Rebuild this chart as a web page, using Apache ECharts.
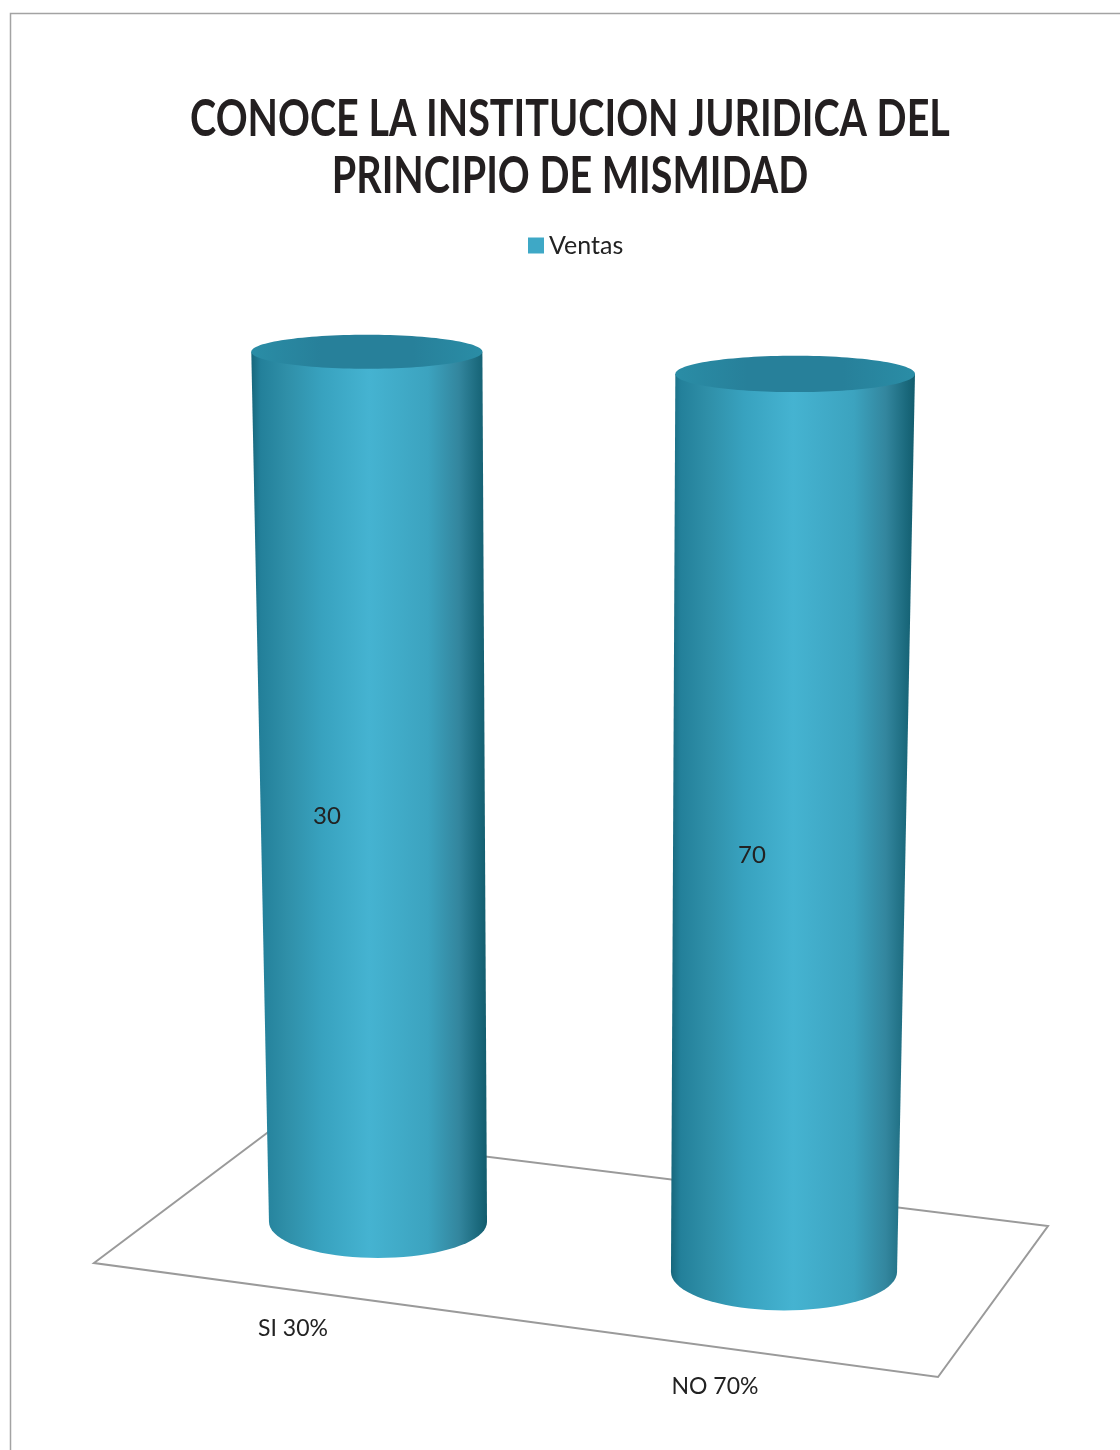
<!DOCTYPE html>
<html>
<head>
<meta charset="utf-8">
<script src="https://cdn.jsdelivr.net/npm/echarts@6/dist/echarts.min.js"></script>
<style>
html, body { margin: 0; padding: 0; background: #fff; }
#chart { width: 1120px; height: 1450px; }
</style>
</head>
<body>
<div id="chart"></div>
<script>
var titleText = 'CONOCE LA INSTITUCION JURIDICA DEL\nPRINCIPIO DE MISMIDAD';
var seriesName = 'Ventas';
var categories = ['SI 30%', 'NO 70%'];
var ventas = [30, 70];

// the picture is a 3D chart: both cylinders look almost the same height,
// so the hidden value axis starts far below zero to keep that look
var axisMin = -1220;
var axisMax = 80;
var floorSlope = 0.123; // cylinders slide down along the floor

var bodyColors = [
    { offset: 0, color: '#17677c' },
    { offset: 0.04, color: '#23809a' },
    { offset: 0.15, color: '#2f8fa8' },
    { offset: 0.3, color: '#38a2bf' },
    { offset: 0.5, color: '#45b3d1' },
    { offset: 0.75, color: '#3ca3bf' },
    { offset: 0.88, color: '#33869e' },
    { offset: 0.97, color: '#19677a' },
    { offset: 1, color: '#125c6d' }
];
var capColors = [
    { offset: 0, color: '#2a8da6' },
    { offset: 0.3, color: '#27809a' },
    { offset: 0.7, color: '#27809a' },
    { offset: 1, color: '#2a8da6' }
];

function gradient(stops) {
    return { type: 'linear', x: 0, y: 0, x2: 1, y2: 0, colorStops: stops };
}

// ellipse gets flatter towards the top of the picture
function tilt(y) {
    return 0.147 + (y - 352) * 0.00021;
}

function renderCylinder(params, api) {
    var idx = api.value(0);
    var val = api.value(1);
    var band = api.size([1, 0])[0];
    var first = api.coord([0, axisMin]);
    var last = api.coord([categories.length - 1, axisMin]);
    var middle = (first[0] + last[0]) / 2;
    var base = api.coord([idx, axisMin]);
    var head = api.coord([idx, val]);
    var shift = floorSlope * (base[0] - first[0]);

    var baseX = base[0];
    var baseY = base[1] + shift;
    var topX = middle + (baseX - middle) * 1.055;
    var topY = head[1] + shift;
    var baseHalf = band * 0.2685 * (1 + shift * 0.00074);
    var topHalf = baseHalf * 1.06;
    var baseRy = baseHalf * tilt(baseY);
    var topRy = topHalf * tilt(topY);

    var pts = [[topX - topHalf, topY], [topX + topHalf, topY]];
    for (var a = 0; a <= 40; a++) {
        var t = Math.PI * a / 40;
        pts.push([baseX + baseHalf * Math.cos(t), baseY + baseRy * Math.sin(t)]);
    }

    return {
        type: 'group',
        children: [
            {
                type: 'polygon',
                shape: { points: pts },
                style: { fill: gradient(bodyColors) }
            },
            {
                type: 'ellipse',
                shape: { cx: topX, cy: topY, rx: topHalf, ry: topRy },
                style: { fill: gradient(capColors) }
            },
            {
                type: 'text',
                style: {
                    text: String(val),
                    x: baseX - 51 + shift * 0.38,
                    y: (topY + baseY) / 2 + 29 + shift * 0.06,
                    fill: '#222',
                    font: '24px Lato',
                    align: 'center',
                    verticalAlign: 'middle'
                }
            },
            {
                type: 'text',
                style: {
                    text: categories[idx],
                    x: baseX - 85 + shift * 0.32,
                    y: baseY + 107 + shift * 0.16,
                    fill: '#222',
                    font: '23px Lato',
                    align: 'center',
                    verticalAlign: 'middle'
                }
            }
        ]
    };
}

var chartData = ventas.map(function (v, i) { return [i, v]; });

var myChart = echarts.init(document.getElementById('chart'));
var option = {
    backgroundColor: '#fff',
    animation: false,
    color: ['#3ea8c6'],
    legend: {
        data: [seriesName],
        left: 528,
        top: 233,
        padding: 0,
        icon: 'rect',
        itemWidth: 16,
        itemHeight: 16,
        itemGap: 5,
        textStyle: { color: '#222', fontFamily: 'Lato', fontSize: 25, padding: [0, 0, 0, 0] }
    },
    grid: { left: 175, width: 812, top: 317, height: 905 },
    xAxis: { type: 'category', data: categories, show: false },
    yAxis: { type: 'value', min: axisMin, max: axisMax, show: false },
    series: [{
        name: seriesName,
        type: 'custom',
        renderItem: renderCylinder,
        encode: { x: 0, y: 1 },
        data: chartData,
        itemStyle: { color: '#3ea8c6' },
        z: 3
    }],
    graphic: [
        {
            // title squeezed sideways, no condensed font is installed
            type: 'text',
            x: 570,
            y: 148,
            scaleX: 0.76,
            style: {
                text: titleText,
                fill: '#231f20',
                font: 'bold 52px Lato',
                lineHeight: 57,
                align: 'center',
                verticalAlign: 'middle'
            }
        },
        {
            type: 'polyline',
            z: 0,
            shape: { points: [[10.5, 1450], [10.5, 13.5], [1120, 13.5]] },
            style: { stroke: '#a3a3a3', lineWidth: 1.5, fill: null }
        },
        {
            type: 'polygon',
            z: 0,
            shape: { points: [[94, 1263], [271, 1130], [1048, 1226], [938, 1377]] },
            style: { stroke: '#9a9a9a', lineWidth: 2, fill: 'none' }
        }
    ]
};
myChart.setOption(option);
</script>
</body>
</html>
